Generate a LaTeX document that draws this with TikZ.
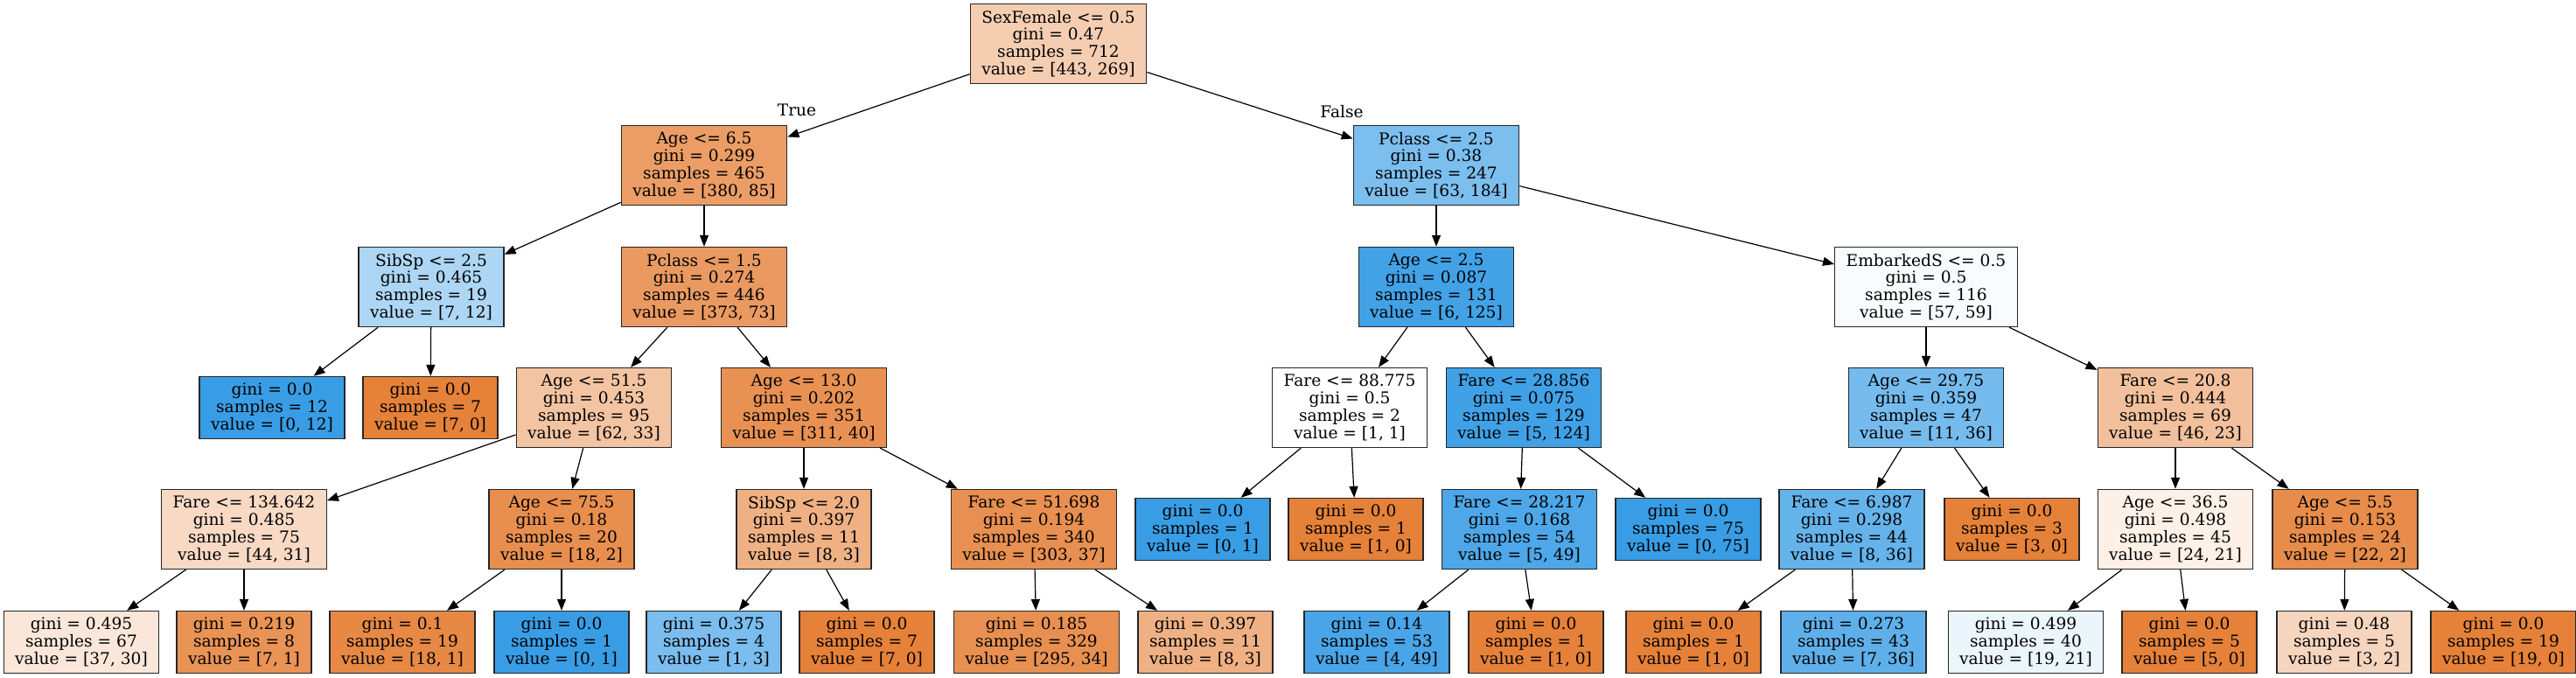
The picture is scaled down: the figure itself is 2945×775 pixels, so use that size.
\documentclass[tikz,border=0pt]{standalone}
\usepackage{fontspec}
\setmainfont{DejaVu Serif}
\usetikzlibrary{arrows.meta,positioning}
\definecolor{clsorange}{RGB}{229,129,57}
\definecolor{clsblue}{RGB}{57,157,229}
\tikzset{
  nd/.style={rectangle,draw=black!85,line width=1.3pt,align=center,
             minimum height=91pt,inner xsep=13pt,inner ysep=0pt,
             font=\fontsize{18.6}{19.8}\selectfont},
  lf/.style={nd,minimum height=71pt},
  ge/.style={-{Triangle[length=13pt,width=10pt]},line width=1.2pt},
  lbl/.style={font=\fontsize{18.6}{19.8}\selectfont},
}

\begin{document}
\begin{tikzpicture}[x=1pt,y=-1pt]
    \useasboundingbox (0,0) rectangle (2945,775);
    % depth 0 and 1
    \node[nd,fill=clsorange!39] (root) at (1210,50)
      {SexFemale <= 0.5\\gini = 0.47\\samples = 712\\value = [443, 269]};
    \node[nd,fill=clsorange!78] (age1) at (805,189)
      {Age <= 6.5\\gini = 0.299\\samples = 465\\value = [380, 85]};
    \node[nd,fill=clsblue!66] (pcl1) at (1642,189)
      {Pclass <= 2.5\\gini = 0.38\\samples = 247\\value = [63, 184]};
    \node[lbl] (lblT) at (911,126) {True};
    \node[lbl] (lblF) at (1534,128) {False};
    % depth 2
    \node[nd,fill=clsblue!42] (sib1) at (493,328)
      {SibSp <= 2.5\\gini = 0.465\\samples = 19\\value = [7, 12]};
    \node[nd,fill=clsorange!80] (pcl2) at (805,328)
      {Pclass <= 1.5\\gini = 0.274\\samples = 446\\value = [373, 73]};
    \node[nd,fill=clsblue!95] (age2) at (1642,328)
      {Age <= 2.5\\gini = 0.087\\samples = 131\\value = [6, 125]};
    \node[nd,fill=clsblue!3] (emb1) at (2202,328)
      {EmbarkedS <= 0.5\\gini = 0.5\\samples = 116\\value = [57, 59]};
    % depth 3
    \node[lf,fill=clsblue] (lf12) at (311,466)
      {gini = 0.0\\samples = 12\\value = [0, 12]};
    \node[lf,fill=clsorange] (lf7) at (492,466)
      {gini = 0.0\\samples = 7\\value = [7, 0]};
    \node[nd,fill=clsorange!47] (age3) at (679,466)
      {Age <= 51.5\\gini = 0.453\\samples = 95\\value = [62, 33]};
    \node[nd,fill=clsorange!87] (age4) at (919,466)
      {Age <= 13.0\\gini = 0.202\\samples = 351\\value = [311, 40]};
    \node[nd,fill=white] (far1) at (1543,466)
      {Fare <= 88.775\\gini = 0.5\\samples = 2\\value = [1, 1]};
    \node[nd,fill=clsblue!96] (far2) at (1742,466)
      {Fare <= 28.856\\gini = 0.075\\samples = 129\\value = [5, 124]};
    \node[nd,fill=clsblue!69] (age5) at (2202,466)
      {Age <= 29.75\\gini = 0.359\\samples = 47\\value = [11, 36]};
    \node[nd,fill=clsorange!50] (far3) at (2487,466)
      {Fare <= 20.8\\gini = 0.444\\samples = 69\\value = [46, 23]};
    % depth 4
    \node[nd,fill=clsorange!30] (far4) at (279,605)
      {Fare <= 134.642\\gini = 0.485\\samples = 75\\value = [44, 31]};
    \node[nd,fill=clsorange!89] (age6) at (642,605)
      {Age <= 75.5\\gini = 0.18\\samples = 20\\value = [18, 2]};
    \node[nd,fill=clsorange!62] (sib2) at (919,605)
      {SibSp <= 2.0\\gini = 0.397\\samples = 11\\value = [8, 3]};
    \node[nd,fill=clsorange!88] (far5) at (1182,605)
      {Fare <= 51.698\\gini = 0.194\\samples = 340\\value = [303, 37]};
    \node[lf,fill=clsblue] (lfa) at (1375,605)
      {gini = 0.0\\samples = 1\\value = [0, 1]};
    \node[lf,fill=clsorange] (lfb) at (1550,605)
      {gini = 0.0\\samples = 1\\value = [1, 0]};
    \node[nd,fill=clsblue!90] (far6) at (1737,605)
      {Fare <= 28.217\\gini = 0.168\\samples = 54\\value = [5, 49]};
    \node[lf,fill=clsblue] (lfc) at (1930,605)
      {gini = 0.0\\samples = 75\\value = [0, 75]};
    \node[nd,fill=clsblue!78] (far7) at (2117,605)
      {Fare <= 6.987\\gini = 0.298\\samples = 44\\value = [8, 36]};
    \node[lf,fill=clsorange] (lfd) at (2300,605)
      {gini = 0.0\\samples = 3\\value = [3, 0]};
    \node[nd,fill=clsorange!12] (age7) at (2487,605)
      {Age <= 36.5\\gini = 0.498\\samples = 45\\value = [24, 21]};
    \node[nd,fill=clsorange!91] (age8) at (2681,605)
      {Age <= 5.5\\gini = 0.153\\samples = 24\\value = [22, 2]};
    % depth 5
    \node[lf,fill=clsorange!19] (l01) at (93,734)
      {gini = 0.495\\samples = 67\\value = [37, 30]};
    \node[lf,fill=clsorange!86] (l02) at (279,734)
      {gini = 0.219\\samples = 8\\value = [7, 1]};
    \node[lf,fill=clsorange!94] (l03) at (460,734)
      {gini = 0.1\\samples = 19\\value = [18, 1]};
    \node[lf,fill=clsblue] (l04) at (642,734)
      {gini = 0.0\\samples = 1\\value = [0, 1]};
    \node[lf,fill=clsblue!67] (l05) at (816,734)
      {gini = 0.375\\samples = 4\\value = [1, 3]};
    \node[lf,fill=clsorange] (l06) at (991,734)
      {gini = 0.0\\samples = 7\\value = [7, 0]};
    \node[lf,fill=clsorange!88] (l07) at (1185,734)
      {gini = 0.185\\samples = 329\\value = [295, 34]};
    \node[lf,fill=clsorange!62] (l08) at (1378,734)
      {gini = 0.397\\samples = 11\\value = [8, 3]};
    \node[lf,fill=clsblue!92] (l09) at (1574,734)
      {gini = 0.14\\samples = 53\\value = [4, 49]};
    \node[lf,fill=clsorange] (l10) at (1756,734)
      {gini = 0.0\\samples = 1\\value = [1, 0]};
    \node[lf,fill=clsorange] (l11) at (1936,734)
      {gini = 0.0\\samples = 1\\value = [1, 0]};
    \node[lf,fill=clsblue!81] (l12) at (2119,734)
      {gini = 0.273\\samples = 43\\value = [7, 36]};
    \node[lf,fill=clsblue!10] (l13) at (2316,734)
      {gini = 0.499\\samples = 40\\value = [19, 21]};
    \node[lf,fill=clsorange] (l14) at (2503,734)
      {gini = 0.0\\samples = 5\\value = [5, 0]};
    \node[lf,fill=clsorange!33] (l15) at (2680,734)
      {gini = 0.48\\samples = 5\\value = [3, 2]};
    \node[lf,fill=clsorange] (l16) at (2862,734)
      {gini = 0.0\\samples = 19\\value = [19, 0]};
    % edges
    \foreach \a/\b in {root/age1,root/pcl1,age1/sib1,age1/pcl2,
        pcl1/age2,pcl1/emb1,sib1/lf12,sib1/lf7,pcl2/age3,pcl2/age4,
        age2/far1,age2/far2,emb1/age5,emb1/far3,age3/far4,age3/age6,
        age4/sib2,age4/far5,far1/lfa,far1/lfb,far2/far6,far2/lfc,
        age5/far7,age5/lfd,far3/age7,far3/age8,far4/l01,far4/l02,
        age6/l03,age6/l04,sib2/l05,sib2/l06,far5/l07,far5/l08,
        far6/l09,far6/l10,far7/l11,far7/l12,age7/l13,age7/l14,
        age8/l15,age8/l16}
      \draw[ge] (\a) -- (\b);
  \end{tikzpicture}
\end{document}
